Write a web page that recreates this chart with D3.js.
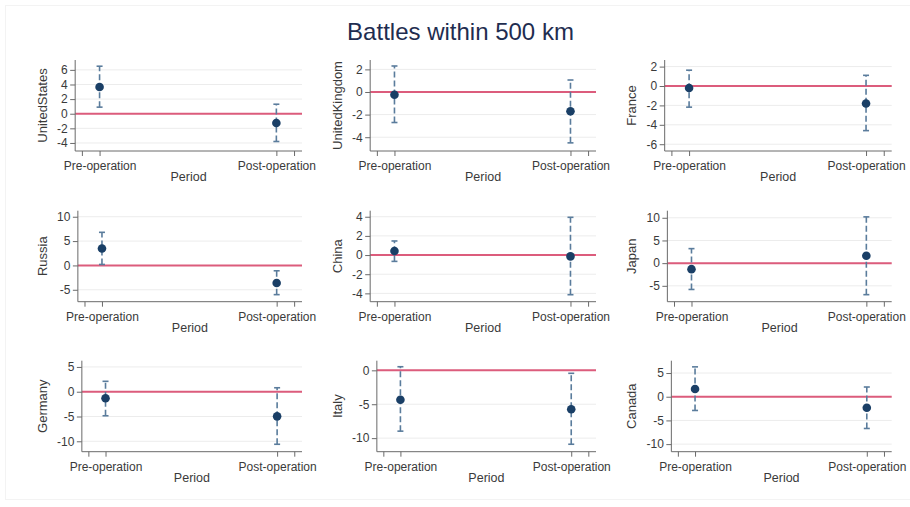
<!DOCTYPE html>
<html><head><meta charset="utf-8">
<script src="https://cdn.jsdelivr.net/npm/d3@7"></script>
<style>
html,body{margin:0;padding:0;background:#fff;}
text{font-family:"Liberation Sans",Arial,Helvetica,sans-serif;}
</style></head>
<body><svg id="c" width="910" height="507"></svg>
<script>
const title = "Battles within 500 km";
const countries = ["UnitedStates","UnitedKingdom","France","Russia","China","Japan","Germany","Italy","Canada"];
const periods = ["Pre-operation","Post-operation"];
const periodPos = [1, 2];
const extraTicks = [0.9, 2.1];
const preEst  = [3.65, -0.24, -0.21, 3.47, 0.42, -1.33, -1.33, -4.33, 1.63];
const preLo   = [0.9, -2.7, -2.18, 0.2, -0.66, -5.8, -4.85, -8.97, -2.9];
const preHi   = [6.5, 2.3, 1.63, 6.8, 1.47, 3.2, 2.1, 0.53, 6.3];
const postEst = [-1.27, -1.7, -1.8, -3.6, -0.14, 1.63, -4.97, -5.75, -2.32];
const postLo  = [-3.8, -4.5, -4.6, -6.0, -4.14, -6.95, -10.6, -10.9, -6.7];
const postHi  = [1.3, 1.06, 1.1, -1.1, 3.94, 10.2, 0.8, -0.44, 2.05];
const yTicks = [[-4,-2,0,2,4,6],[-4,-2,0,2],[-6,-4,-2,0,2],[-5,0,5,10],[-4,-2,0,2,4],[-5,0,5,10],[-10,-5,0,5],[-10,-5,0],[-10,-5,0,5]];
const yMin = [-5.1,-5.22,-6.7,-7.45,-4.87,-8.5,-12.1,-12.0,-11.6];
const yMax = [7.35,2.83,2.68,11.24,4.63,11.56,6.26,1.42,7.6];
const xDomain = [0.862, 2.145];

const svg = d3.select("#c");
// faint outer frame
svg.append("rect").attr("x",5.5).attr("y",5.5).attr("width",910).attr("height",494)
  .attr("fill","none").attr("stroke","#f3f3f3");

svg.append("text").attr("x",460.5).attr("y",39.5).attr("text-anchor","middle")
  .attr("font-size",24).attr("fill","#1f2d50").text(title);

const rowTop = [60, 210.7, 360.7];
const plotH = 91;
const colStart = [57, 352, 646.5];
const colRight = [302, 596, 891.7];

const axisCol = "#6a6a6a", txtCol = "#3a3a3a";
const ciCol = "#5a7c9c", ptCol = "#1a3f66", zeroCol = "#dc5c7c";
const fmt = d => String(d);

countries.forEach((name, i) => {
  const r = Math.floor(i/3), c = i%3;
  const g = svg.append("g");
  const meas = g.append("g").attr("font-size",12);
  let maxW = 0;
  yTicks[i].forEach(t => {
    const tt = meas.append("text").text(fmt(t));
    maxW = Math.max(maxW, tt.node().getComputedTextLength());
  });
  meas.remove();
  const x0 = colStart[c] + maxW + 7.5;
  const x1 = colRight[c];
  const y0 = rowTop[r], y1 = rowTop[r] + plotH;
  const x = d3.scaleLinear().domain(xDomain).range([x0, x1]);
  const y = d3.scaleLinear().domain([yMin[i], yMax[i]]).range([y1, y0]);

  g.selectAll(".grid").data(yTicks[i]).join("line")
    .attr("x1",x0).attr("x2",x1).attr("y1",d=>y(d)).attr("y2",d=>y(d))
    .attr("stroke","#ececec").attr("stroke-width",1);

  g.append("line").attr("x1",x0).attr("x2",x1).attr("y1",y(0)).attr("y2",y(0))
    .attr("stroke",zeroCol).attr("stroke-width",2);

  const ya = g.append("g").attr("transform",`translate(${x0},0)`)
    .call(d3.axisLeft(y).tickValues(yTicks[i]).tickFormat(fmt).tickSize(5).tickPadding(2.5).tickSizeOuter(0));
  ya.select(".domain").attr("stroke",axisCol).attr("d",`M0,${y0}V${y1}`);
  ya.selectAll(".tick line").attr("stroke",axisCol);
  ya.selectAll(".tick text").attr("font-size",12).attr("fill",txtCol).attr("font-family",null);

  const xa = g.append("g").attr("transform",`translate(0,${y1})`)
    .call(d3.axisBottom(x).tickValues(periodPos.concat(extraTicks)).tickSize(5).tickSizeOuter(0)
      .tickFormat(d => { const k = periodPos.indexOf(d); return k>=0 ? periods[k] : ""; }).tickPadding(3));
  xa.select(".domain").attr("stroke",axisCol).attr("d",`M${x0},0H${x1}`);
  xa.selectAll(".tick line").attr("stroke",axisCol);
  xa.selectAll(".tick text").attr("font-size",12).attr("fill",txtCol).attr("font-family",null).attr("dy","0.95em");

  g.append("text").attr("x",(x0+x1)/2).attr("y",y1+30).attr("text-anchor","middle")
    .attr("font-size",12.5).attr("fill",txtCol).text("Period");
  const ly = (y0+y1)/2, lx = colStart[c] - 15;
  g.append("text").attr("transform",`translate(${lx},${ly}) rotate(-90)`).attr("text-anchor","middle")
    .attr("dy","0.35em").attr("font-size",13).attr("fill",txtCol).text(name);

  const est = [preEst[i], postEst[i]], lo = [preLo[i], postLo[i]], hi = [preHi[i], postHi[i]];
  periodPos.forEach((p, k) => {
    const px = x(p);
    g.append("line").attr("x1",px).attr("x2",px).attr("y1",y(lo[k])).attr("y2",y(hi[k]))
      .attr("stroke",ciCol).attr("stroke-width",1.6).attr("stroke-dasharray","6,3");
    [lo[k], hi[k]].forEach(v => {
      g.append("line").attr("x1",px-3).attr("x2",px+3).attr("y1",y(v)).attr("y2",y(v))
        .attr("stroke",ciCol).attr("stroke-width",1.6);
    });
    g.append("circle").attr("cx",px).attr("cy",y(est[k])).attr("r",4.3).attr("fill",ptCol);
  });
});
</script></body></html>
